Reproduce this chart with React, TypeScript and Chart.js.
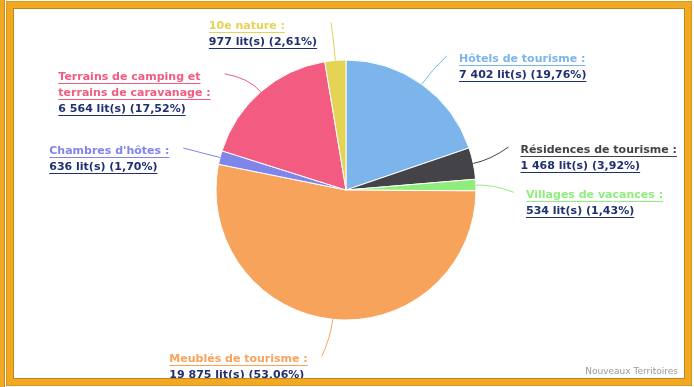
import React, { useEffect, useRef } from "react";
import { Chart, registerables } from "chart.js";

Chart.register(...registerables);

const categories = [
  "Hôtels de tourisme",
  "Résidences de tourisme",
  "Villages de vacances",
  "Meublés de tourisme",
  "Chambres d'hôtes",
  "Terrains de camping et terrains de caravanage",
  "10e nature",
];
const beds = [7402, 1468, 534, 19875, 636, 6564, 977];
const colors = ["#7cb5ec", "#434348", "#90ed7d", "#f7a35c", "#8085e9", "#f15c80", "#e4d354"];
const creditText = "Nouveaux Territoires";

// label layout tweaks (degrees shift of label anchor along the ring)
const labelAngleShift = [1.4, -3, 3.0, 2.4, 0, -5.3, -0.4];

const total = beds.reduce((a, b) => a + b, 0);
const fmtInt = (n: number) => String(n).replace(/\B(?=(\d{3})+(?!\d))/g, " ");
const fmtPct = (n: number) => ((n / total) * 100).toFixed(2).replace(".", ",");

function wrapText(ctx: CanvasRenderingContext2D, text: string, maxW: number): string[] {
  const words = text.split(" ");
  const lines: string[] = [];
  let cur = "";
  for (const w of words) {
    const test = cur ? cur + " " + w : w;
    if (cur && ctx.measureText(test).width > maxW && w !== ":") {
      lines.push(cur);
      cur = w;
    } else cur = test;
  }
  if (cur) lines.push(cur);
  return lines;
}

const labelPlugin = {
  id: "pieLabels",
  afterDraw(chart: any) {
    const ctx: CanvasRenderingContext2D = chart.ctx;
    const meta = chart.getDatasetMeta(0);
    ctx.save();
    meta.data.forEach((arc: any, i: number) => {
      const { x, y, startAngle, endAngle, outerRadius } = arc.getProps(
        ["x", "y", "startAngle", "endAngle", "outerRadius"],
        true
      );
      const mid = (startAngle + endAngle) / 2;
      const a2 = mid + (labelAngleShift[i] * Math.PI) / 180;
      const r = outerRadius;
      const ex = x + Math.cos(a2) * (r + 38);
      const ey = y + Math.sin(a2) * (r + 38);
      const sx = x + Math.cos(mid) * r;
      const sy = y + Math.sin(mid) * r;
      const cx = x + Math.cos(mid) * (r + 18);
      const cy = y + Math.sin(mid) * (r + 18);
      ctx.strokeStyle = colors[i];
      ctx.lineWidth = 1;
      ctx.beginPath();
      ctx.moveTo(sx, sy);
      ctx.quadraticCurveTo(cx, cy, ex, ey);
      ctx.stroke();

      ctx.font = "bold 11px 'DejaVu Sans', Verdana, sans-serif";
      const nameLines = wrapText(ctx, categories[i] + " :", 170);
      const valueLine = `${fmtInt(beds[i])} lit(s) (${fmtPct(beds[i])}%)`;
      const all = [
        ...nameLines.map((t) => ({ t, c: colors[i] })),
        { t: valueLine, c: "#1f3070" },
      ];
      const blockW = Math.max(...all.map((l) => ctx.measureText(l.t).width));
      const onRight = Math.cos(a2) >= 0;
      const left = onRight ? ex + 12 : ex - 14 - blockW;
      let ly = ey + 3;
      ctx.textBaseline = "middle";
      ctx.textAlign = "left";
      for (const l of all) {
        const w = ctx.measureText(l.t).width;
        ctx.fillStyle = l.c;
        ctx.fillText(l.t, left, ly);
        ctx.fillRect(left, Math.round(ly + 6), w, 1);
        ly += 16;
      }
    });
    ctx.font = "9px 'DejaVu Sans', Verdana, sans-serif";
    ctx.fillStyle = "#999999";
    ctx.textAlign = "right";
    ctx.textBaseline = "middle";
    ctx.fillText(creditText, 678, 372);
    ctx.restore();
  },
};

export default function App() {
  const ref = useRef<HTMLCanvasElement>(null);
  useEffect(() => {
    if (!ref.current) return;
    const chart = new Chart(ref.current, {
      type: "pie",
      data: {
        labels: categories,
        datasets: [
          {
            data: beds,
            backgroundColor: colors,
            borderColor: "#ffffff",
            borderWidth: 1,
          },
        ],
      },
      options: {
        animation: false,
        responsive: false,
        radius: 130,
        layout: { padding: { left: 0, right: 2, top: 0, bottom: 7 } },
        plugins: { legend: { display: false }, tooltip: { enabled: false } },
      } as any,
      plugins: [labelPlugin],
    });
    return () => chart.destroy();
  }, []);

  return (
    <div style={{ position: "fixed", left: 0, top: 0, width: 694, height: 387, background: "#fff", overflow: "hidden" }}>
      <canvas ref={ref} width={694} height={387} style={{ position: "absolute", left: 0, top: 0 }} />
      <div
        style={{
          position: "absolute",
          left: 0,
          top: 0,
          width: 5,
          height: 387,
          background: "#f2a922",
          borderRight: "1px solid #c98a1e",
          boxSizing: "border-box",
          pointerEvents: "none",
        }}
      />
      <div
        style={{
          position: "absolute",
          left: 7,
          top: 2,
          width: 684,
          height: 383,
          border: "6px solid #f2a922",
          boxSizing: "border-box",
          boxShadow: "inset 0 0 0 1px #c5851c, 0 0 0 1px #d8951f",
          pointerEvents: "none",
        }}
      />
    </div>
  );
}
